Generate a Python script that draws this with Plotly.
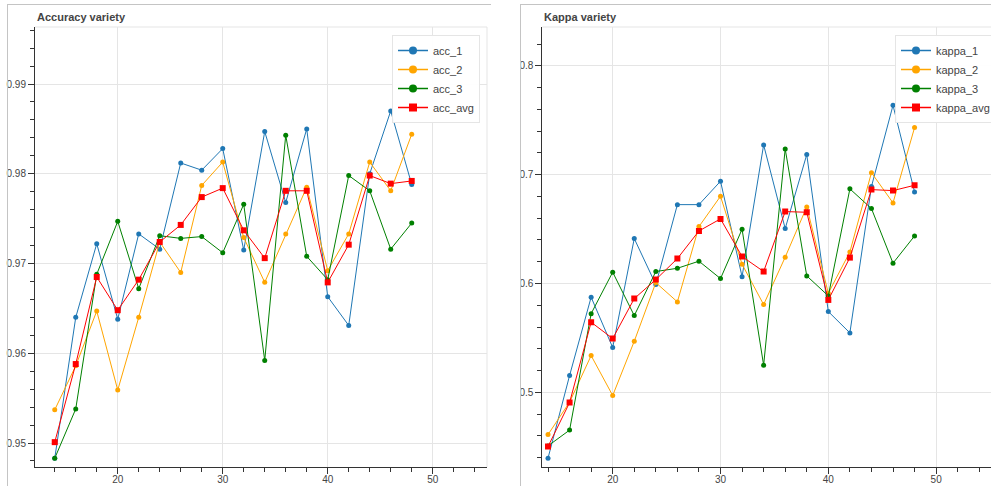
import plotly.graph_objects as go

# Epoch / step values on the x axis
steps = [14, 16, 18, 20, 22, 24, 26, 28, 30, 32, 34, 36, 38, 40, 42, 44, 46, 48]

acc_1 = [0.9483, 0.9640, 0.9722, 0.9638, 0.9733, 0.9716, 0.9812, 0.9804, 0.9828,
         0.9715, 0.9847, 0.9768, 0.9850, 0.9663, 0.9631, 0.9800, 0.9870, 0.9788]
acc_2 = [0.9537, 0.9586, 0.9647, 0.9559, 0.9640, 0.9724, 0.9690, 0.9787, 0.9813,
         0.9729, 0.9679, 0.9733, 0.9785, 0.9692, 0.9733, 0.9813, 0.9781, 0.9844]
acc_3 = [0.9483, 0.9538, 0.9688, 0.9747, 0.9672, 0.9731, 0.9728, 0.9730, 0.9712,
         0.9766, 0.9592, 0.9843, 0.9708, 0.9682, 0.9798, 0.9781, 0.9716, 0.9745]
acc_avg = [0.9501, 0.9588, 0.9685, 0.9648, 0.9682, 0.9724, 0.9743, 0.9774, 0.9784,
           0.9737, 0.9706, 0.9781, 0.9781, 0.9679, 0.9721, 0.9798, 0.9789, 0.9792]

kappa_1 = [0.4394, 0.5154, 0.5874, 0.5411, 0.6413, 0.5990, 0.6725, 0.6725, 0.6940,
           0.6063, 0.7274, 0.6505, 0.7185, 0.5742, 0.5546, 0.6891, 0.7638, 0.6842]
kappa_2 = [0.4611, 0.4909, 0.5337, 0.4970, 0.5469, 0.6008, 0.5831, 0.6523, 0.6802,
           0.6177, 0.5806, 0.6242, 0.6704, 0.5911, 0.6290, 0.7019, 0.6741, 0.7433]
kappa_3 = [0.4507, 0.4652, 0.5723, 0.6104, 0.5705, 0.6110, 0.6140, 0.6205, 0.6045,
           0.6499, 0.5249, 0.7237, 0.6070, 0.5886, 0.6870, 0.6689, 0.6187, 0.6437]
kappa_avg = [0.4501, 0.4905, 0.5644, 0.5494, 0.5861, 0.6036, 0.6229, 0.6483, 0.6594,
             0.6248, 0.6110, 0.6661, 0.6655, 0.5849, 0.6238, 0.6863, 0.6854, 0.6903]

acc_names = ["acc_1", "acc_2", "acc_3", "acc_avg"]
kappa_names = ["kappa_1", "kappa_2", "kappa_3", "kappa_avg"]

W, H = 991, 486
FONT = "Liberation Sans, Helvetica, Arial, sans-serif"
COLORS = ["#1f77b4", "orange", "green", "red"]
SYMBOLS = ["circle", "circle", "circle", "square"]
SIZES = [5, 5, 5, 6]


def px_x(p):
    return p / W


def px_y(p):
    return 1 - p / H


fig = go.Figure()


def add_panel(series, names, xa, ya, legend):
    for vals, name, col, sym, sz in zip(series, names, COLORS, SYMBOLS, SIZES):
        fig.add_trace(go.Scatter(
            x=steps, y=vals, name=name, mode="lines+markers",
            line=dict(color=col, width=1),
            marker=dict(color=col, symbol=sym, size=sz, line=dict(width=0)),
            xaxis=xa, yaxis=ya, showlegend=False,
        ))
    # legend entries with larger glyphs
    for name, col, sym in zip(names, COLORS, SYMBOLS):
        fig.add_trace(go.Scatter(
            x=[None], y=[None], name=name, mode="lines+markers",
            line=dict(color=col, width=1.5),
            marker=dict(color=col, symbol=sym, size=8, line=dict(width=0)),
            xaxis=xa, yaxis=ya, showlegend=True, legend=legend,
        ))


add_panel([acc_1, acc_2, acc_3, acc_avg], acc_names, "x", "y", "legend")
add_panel([kappa_1, kappa_2, kappa_3, kappa_avg], kappa_names, "x2", "y2", "legend2")

ydom = [px_y(467), px_y(27)]
tickfont = dict(family=FONT, size=10, color="#444")
axis_common = dict(
    showline=True, linecolor="#333", linewidth=1,
    ticks="outside", ticklen=6, tickcolor="#333", tickwidth=1,
    showgrid=True, gridcolor="#e5e5e5", gridwidth=1,
    zeroline=False, tickfont=tickfont, fixedrange=True,
)
minor_x = dict(dtick=2, ticks="outside", ticklen=4, tickcolor="#333", showgrid=False)

fig.update_layout(
    width=W, height=H,
    margin=dict(l=0, r=0, t=0, b=0, autoexpand=False),
    paper_bgcolor="white", plot_bgcolor="white",
    font=dict(family=FONT, color="#444"),
    xaxis=dict(domain=[px_x(35), px_x(487)], range=[12.12, 55.17], anchor="y",
               dtick=10, tick0=0, minor=minor_x, ticklabelstandoff=-3,
               **axis_common),
    yaxis=dict(domain=ydom, range=[0.94733, 0.99635], anchor="x",
               dtick=0.01, tick0=0.95,
               minor=dict(dtick=0.002, ticks="outside", ticklen=4, tickcolor="#333", showgrid=False),
               **axis_common),
    xaxis2=dict(domain=[px_x(542.3), 1], range=[13.47, 55.09], anchor="y2",
                dtick=10, tick0=0, minor=minor_x, ticklabelstandoff=-3,
                **axis_common),
    yaxis2=dict(domain=ydom, range=[0.4313, 0.8358], anchor="x2",
                dtick=0.1, tick0=0.5,
                minor=dict(dtick=0.02, ticks="outside", ticklen=4, tickcolor="#333", showgrid=False),
                **axis_common),
    legend=dict(x=px_x(480), xanchor="right", y=px_y(35), yanchor="top",
                bgcolor="rgba(255,255,255,0.95)", bordercolor="#e5e5e5", borderwidth=1,
                font=dict(family=FONT, size=11, color="#444"), itemwidth=30,
                tracegroupgap=0),
    legend2=dict(x=px_x(996), xanchor="right", y=px_y(35), yanchor="top",
                 bgcolor="rgba(255,255,255,0.95)", bordercolor="#e5e5e5", borderwidth=1,
                 font=dict(family=FONT, size=11, color="#444"), itemwidth=30,
                 tracegroupgap=0),
    showlegend=True,
)

# plot-frame outlines (top and right edges in light grey)
fig.add_shape(type="line", xref="x domain", yref="y domain", x0=0, x1=1, y0=1, y1=1,
              line=dict(color="#e5e5e5", width=1), layer="below")
fig.add_shape(type="line", xref="x domain", yref="y domain", x0=1, x1=1, y0=0, y1=1,
              line=dict(color="#e5e5e5", width=1), layer="below")
fig.add_shape(type="line", xref="x2 domain", yref="y2 domain", x0=0, x1=1, y0=1, y1=1,
              line=dict(color="#e5e5e5", width=1), layer="below")

# white gutter between the two panels, then the panel borders
fig.add_shape(type="rect", xref="paper", yref="paper",
              x0=px_x(491.5), x1=px_x(520), y0=0, y1=1,
              fillcolor="white", line=dict(width=0), layer="above")
border = dict(color="#c4c4c4", width=1)
for x0, x1 in [(7, 491), (520, 991)]:
    fig.add_shape(type="line", xref="paper", yref="paper",
                  x0=px_x(x0), x1=px_x(x1), y0=px_y(4.5), y1=px_y(4.5),
                  line=border, layer="above")
    fig.add_shape(type="line", xref="paper", yref="paper",
                  x0=px_x(x0 + 0.5), x1=px_x(x0 + 0.5), y0=0, y1=px_y(4.5),
                  line=border, layer="above")

# panel titles
for text, xp in [("Accuracy variety", 35), ("Kappa variety", 542)]:
    fig.add_annotation(text=f"<b>{text}</b>", xref="paper", yref="paper",
                       x=px_x(xp), y=px_y(17), xanchor="left", yanchor="middle",
                       showarrow=False, font=dict(family=FONT, size=11, color="#444"))

fig.write_html("out.html")
